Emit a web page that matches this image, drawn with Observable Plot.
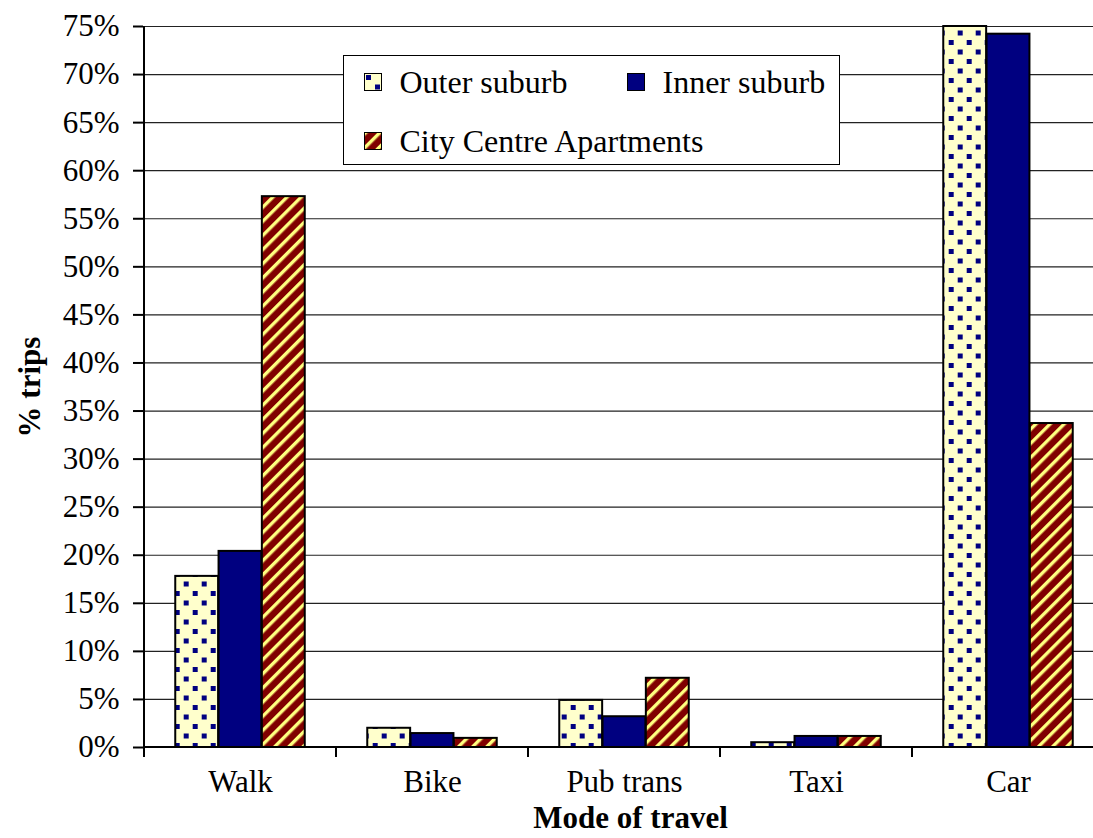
<!DOCTYPE html>
<html><head><meta charset="utf-8">
<script src="https://cdn.jsdelivr.net/npm/d3@7"></script>
<script src="https://cdn.jsdelivr.net/npm/@observablehq/plot@0.6"></script>
<style>
html,body{margin:0;padding:0;background:#fff;overflow:hidden}
#wrap{position:relative;width:1093px;height:838px;font-family:"Liberation Serif","Times New Roman",serif}
#defs{position:absolute;width:0;height:0;left:0;top:0}
#legend{position:absolute;left:343px;top:55px;width:497px;height:110px;box-sizing:border-box;border:1.5px solid #000;background:#fff}
.item{position:absolute;font-size:32px;line-height:30px;white-space:nowrap;color:#000}
.item svg{position:absolute;left:-36px;top:6px}
</style></head><body>
<svg id="defs" aria-hidden="true"><defs>
<pattern id="dots" patternUnits="userSpaceOnUse" width="18" height="19">
<rect width="18" height="19" fill="#FFFFCC"/>
<rect x="2" y="2" width="5" height="5" fill="#000080"/>
<rect x="11" y="11.5" width="5" height="5" fill="#000080"/>
</pattern>
<pattern id="stripes" patternUnits="userSpaceOnUse" width="10" height="10" patternTransform="rotate(45)">
<rect width="10" height="10" fill="#800000"/>
<rect width="3.4" height="10" fill="#FFFF80"/>
</pattern>
</defs></svg>
<div id="wrap"><div id="chart"></div><div id="legend"></div></div>
<script>
const modes = ["Walk", "Bike", "Pub trans", "Taxi", "Car"];
const series = ["Outer suburb", "Inner suburb", "City Centre Apartments"];
const outerSuburb = [17.8, 2.0, 4.9, 0.5, 75.0];
const innerSuburb = [20.4, 1.45, 3.2, 1.15, 74.2];
const cityCentre = [57.3, 0.95, 7.2, 1.15, 33.7];
const yTicks = [0, 5, 10, 15, 20, 25, 30, 35, 40, 45, 50, 55, 60, 65, 70, 75];
const fills = ["url(#dots)", "#000080", "url(#stripes)"];

const seriesValues = [outerSuburb, innerSuburb, cityCentre];
const table = [];
series.forEach((s, i) => modes.forEach((m, j) => table.push({mode: m, series: s, value: seriesValues[i][j]})));

const X0 = 143, X1 = 1105;
const band = (X1 - X0) / modes.length;
const barW = 43.3;
const inset = (band - barW) / 2;
const FONT = "'Liberation Serif','Times New Roman',serif";

function axisLines(index, {x, y}) {
  const g = d3.create("svg:g").attr("stroke", "#000").attr("stroke-width", 2).attr("fill", "none");
  const bw = x(modes[1]) - x(modes[0]);
  const edges = modes.map(m => x(m)).concat([x(modes[modes.length - 1]) + bw]);
  const left = edges[0];
  g.append("line").attr("x1", left).attr("x2", left).attr("y1", y(0)).attr("y2", y(75));
  g.append("line").attr("x1", left).attr("x2", edges[edges.length - 1]).attr("y1", y(0)).attr("y2", y(0));
  edges.forEach(e => g.append("line").attr("x1", e).attr("x2", e).attr("y1", y(0)).attr("y2", y(0) + 10));
  return g.node();
}

const chart = Plot.plot({
  width: 1093,
  height: 838,
  marginLeft: 143,
  marginRight: 0,
  marginTop: 26,
  marginBottom: 91,
  style: {fontFamily: FONT, fontSize: "31px", background: "#fff", color: "#000", overflow: "hidden"},
  x: {domain: modes, range: [X0, X1], padding: 0},
  y: {domain: [0, 75]},
  marks: [
    Plot.gridY(yTicks, {stroke: "#222", strokeOpacity: 1, strokeWidth: 1.2}),
    ...series.map((s, i) => Plot.barY(table.filter(d => d.series === s), {
      x: "mode", y: "value", fill: fills[i], stroke: "#000", strokeWidth: 2,
      insetLeft: inset, insetRight: inset, dx: (i - 1) * barW
    })),
    Plot.axisY(yTicks, {tickSize: 10, tickPadding: 14, tickFormat: d => d + "%", fontSize: 31, stroke: "#000", strokeWidth: 2, label: null}),
    Plot.axisX({tickSize: 0, tickPadding: 22, fontSize: 31, label: null}),
    axisLines,
    Plot.text(["% trips"], {frameAnchor: "left", textAnchor: "middle", rotate: -90, dx: -113, fontWeight: "bold", fontSize: 31, fill: "#000"}),
    Plot.text(["Mode of travel"], {frameAnchor: "bottom", textAnchor: "middle", lineAnchor: "middle", dy: 71, dx: 12, fontWeight: "bold", fontSize: 31, fill: "#000"})
  ]
});
document.getElementById("chart").appendChild(chart);

// legend
const legend = document.getElementById("legend");
const legendPos = [[55.5, 10.5], [318.5, 10.5], [55.5, 69.5]];
series.forEach((s, i) => {
  const div = document.createElement("div");
  div.className = "item";
  div.style.left = legendPos[i][0] + "px";
  div.style.top = legendPos[i][1] + "px";
  div.innerHTML = `<svg width="18" height="18"><rect x="0.5" y="0.5" width="17" height="17" fill="${fills[i]}" stroke="#000" stroke-width="1"/></svg>`;
  div.appendChild(document.createTextNode(s));
  legend.appendChild(div);
});
</script>
</body></html>
